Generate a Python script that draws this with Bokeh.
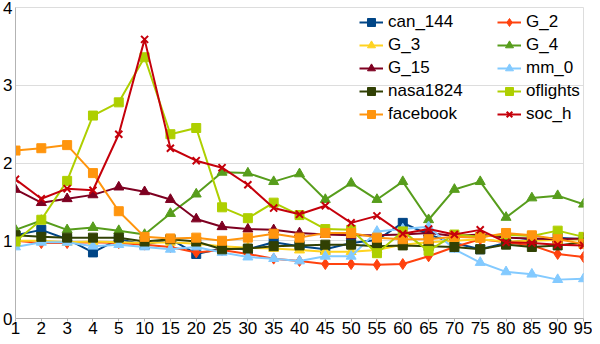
from bokeh.plotting import figure
from bokeh.models import Range1d, FixedTicker, Legend, LegendItem
from bokeh.embed import file_html
from bokeh.resources import INLINE

x_labels = ["1", "2", "3", "4", "5", "10", "15", "20", "25", "30", "35", "40",
            "45", "50", "55", "60", "65", "70", "75", "80", "85", "90", "95"]

can_144 = [1.07, 1.14, 1.02, 0.85, 1.02, 0.95, 1.02, 0.83, 0.90, 0.89, 0.98, 0.93,
           0.89, 0.97, 1.01, 1.23, 1.08, 0.97, 0.89, 0.97, 1.02, 1.04, 1.02]
G_2 = [1.00, 0.97, 0.97, 0.98, 0.97, 0.95, 0.92, 0.85, 0.88, 0.83, 0.77, 0.74,
       0.70, 0.70, 0.69, 0.70, 0.80, 0.92, 1.02, 0.98, 0.94, 0.83, 0.79]
G_3 = [1.00, 1.00, 0.98, 0.99, 0.98, 0.97, 0.98, 0.96, 0.93, 0.91, 0.90, 0.88,
       0.86, 0.86, 0.88, 0.95, 0.98, 1.00, 1.02, 0.99, 1.00, 1.01, 1.02]
G_4 = [1.14, 1.26, 1.14, 1.17, 1.13, 1.08, 1.35, 1.60, 1.88, 1.87, 1.76, 1.86,
       1.53, 1.74, 1.53, 1.76, 1.27, 1.66, 1.76, 1.30, 1.55, 1.58, 1.47]
G_15 = [1.66, 1.49, 1.54, 1.59, 1.69, 1.63, 1.53, 1.28, 1.18, 1.15, 1.14, 1.10,
        1.08, 1.07, 1.07, 1.08, 1.10, 1.06, 1.08, 1.04, 1.03, 1.02, 1.03]
mm_0 = [0.92, 0.98, 0.98, 0.93, 0.95, 0.92, 0.89, 0.92, 0.85, 0.79, 0.77, 0.74,
        0.80, 0.80, 1.12, 1.15, 1.18, 0.89, 0.72, 0.60, 0.57, 0.50, 0.51]
nasa1824 = [1.07, 1.05, 1.04, 1.04, 1.04, 0.99, 1.02, 0.99, 0.89, 0.90, 0.93, 0.94,
            0.95, 0.95, 0.93, 0.94, 0.93, 0.92, 0.89, 0.95, 0.92, 0.94, 0.98]
oflights = [0.99, 1.27, 1.77, 2.61, 2.78, 3.36, 2.37, 2.45, 1.43, 1.29, 1.49, 1.33,
            1.15, 1.14, 0.84, 1.12, 0.87, 1.08, 1.05, 1.08, 1.06, 1.13, 1.05]
facebook = [2.16, 2.19, 2.23, 1.87, 1.38, 1.05, 1.03, 1.04, 1.00, 1.04, 1.09, 1.04,
            1.10, 1.10, 1.04, 1.02, 1.02, 1.05, 1.04, 1.10, 1.07, 1.02, 0.96]
soc_h = [1.79, 1.54, 1.67, 1.65, 2.37, 3.59, 2.19, 2.03, 1.94, 1.72, 1.42, 1.34,
         1.45, 1.23, 1.32, 1.09, 1.15, 1.08, 1.14, 0.98, 0.97, 0.95, 0.94]

series_names = ["can_144", "G_2", "G_3", "G_4", "G_15", "mm_0", "nasa1824",
                "oflights", "facebook", "soc_h"]
series_values = [can_144, G_2, G_3, G_4, G_15, mm_0, nasa1824, oflights, facebook, soc_h]
series_colors = ["#004586", "#ff420e", "#ffd320", "#579d1c", "#7e0021", "#83caff",
                 "#314004", "#aecf00", "#ff950e", "#c5000b"]
series_markers = ["square", "diamond", "triangle", "triangle", "triangle", "triangle",
                  "square", "square", "square", "x"]
marker_sizes = {"square": 9, "diamond": 11, "triangle": 10, "x": 10}

FONT = "Liberation Sans"

p = figure(width=592, height=336, output_backend="svg", toolbar_location=None,
           x_range=Range1d(0, len(x_labels) - 1), y_range=Range1d(0, 4),
           min_border_left=12, min_border_right=9, min_border_top=7, min_border_bottom=0)
p.background_fill_color = "white"
p.border_fill_color = "white"
p.outline_line_color = "#dddddd"

p.xgrid.visible = False
p.ygrid.grid_line_color = "#dddddd"
p.ygrid.ticker = FixedTicker(ticks=[0, 1, 2, 3, 4])

p.xaxis.ticker = FixedTicker(ticks=list(range(len(x_labels))))
p.xaxis.major_label_overrides = {i: lab for i, lab in enumerate(x_labels)}
p.yaxis.ticker = FixedTicker(ticks=[0, 1, 2, 3, 4])

for ax in (p.xaxis[0], p.yaxis[0]):
    ax.axis_line_color = "#b3b3b3"
    ax.major_tick_line_color = "#b3b3b3"
    ax.minor_tick_line_color = None
    ax.minor_tick_out = 0
    ax.minor_tick_in = 0
    ax.major_label_text_font = FONT
    ax.major_label_text_font_size = "17px"
    ax.major_label_text_color = "black"
    ax.major_label_text_line_height = 1.0
    ax.major_tick_in = 0
p.xaxis.major_tick_out = 3
p.xaxis.major_label_standoff = 0
p.yaxis.major_tick_out = 0
p.yaxis.major_label_standoff = 3

xs = list(range(len(x_labels)))
items = []
for name, vals, col, mk in zip(series_names, series_values, series_colors, series_markers):
    lr = p.line(xs, vals, line_color=col, line_width=2)
    sr = p.scatter(xs, vals, marker=mk, size=marker_sizes[mk], fill_color=col,
                   line_color=col, line_width=2 if mk == "x" else 1)
    items.append(LegendItem(label=name, renderers=[lr, sr]))

col1 = items[0::2]
col2 = items[1::2]

def make_legend(its, loc):
    lg = Legend(items=its, location=loc, padding=0, margin=0, spacing=3,
                glyph_width=24, glyph_height=20, label_height=20, label_standoff=5,
                label_text_font=FONT, label_text_font_size="17px",
                label_text_color="black", border_line_alpha=0,
                background_fill_alpha=0)
    return lg

p.add_layout(make_legend(col1, (344, 194)))
p.add_layout(make_legend(col2, (482, 194)))

open("out.html", "w").write(file_html(p, INLINE))
